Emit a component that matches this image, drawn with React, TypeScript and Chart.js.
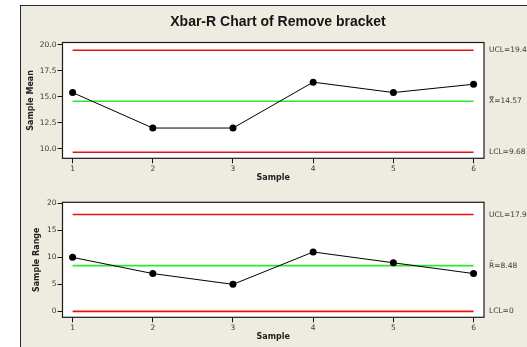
import { useEffect, useRef } from "react";
import { Chart, registerables } from "chart.js";

Chart.register(...registerables);

// Subgroup numbers and the statistics plotted for each subgroup
const SAMPLES = [1, 2, 3, 4, 5, 6];
const SAMPLE_MEANS = [15.4, 12.0, 12.0, 16.4, 15.4, 16.2];
const SAMPLE_RANGES = [10, 7, 5, 11, 9, 7];

// Control limits (Xbar chart)
const XBAR_UCL = 19.46;
const XBAR_CENTER = 14.57;
const XBAR_LCL = 9.68;

// Control limits (R chart)
const R_UCL = 17.93;
const R_CENTER = 8.48;
const R_LCL = 0;

// Axis tick values
const MEAN_TICKS = [10, 12.5, 15, 17.5, 20];
const RANGE_TICKS = [0, 5, 10, 15, 20];

const TITLE = "Xbar-R Chart of Remove bracket";

const SMALL_FONT = "DejaVu Sans";
const RED = "#ea1010";
const GREEN = "#2ee62e";
const INK = "#3a3a3a";

type LimitLabel = { text: string; value: number };

function controlLine(value: number, color: string) {
  return {
    type: "line" as const,
    data: [
      { x: SAMPLES[0], y: value },
      { x: SAMPLES[SAMPLES.length - 1], y: value },
    ],
    borderColor: color,
    borderWidth: 1.6,
    pointRadius: 0,
    fill: false,
    order: 2,
  };
}

function makeChart(
  canvas: HTMLCanvasElement,
  opts: {
    values: number[];
    ucl: number;
    center: number;
    lcl: number;
    yMin: number;
    yMax: number;
    ticks: number[];
    decimals: number;
    yTitle: string;
    yTitlePad: number;
    padTop: number;
    xAxisHeight: number;
    xTitlePad: number;
    labels: LimitLabel[];
    heading?: string;
  }
) {
  const plotFrame = {
    id: "plotFrame",
    beforeDatasetsDraw(chart: any) {
      const { ctx, chartArea: a } = chart;
      ctx.save();
      ctx.fillStyle = "#ffffff";
      ctx.fillRect(a.left, a.top, a.right - a.left, a.bottom - a.top);
      ctx.restore();
    },
    afterDatasetsDraw(chart: any) {
      const { ctx, chartArea: a } = chart;
      ctx.save();
      ctx.strokeStyle = "#1a1a1a";
      ctx.lineWidth = 1.2;
      ctx.strokeRect(a.left, a.top, a.right - a.left, a.bottom - a.top);
      ctx.restore();
    },
  };

  const limitLabels = {
    id: "limitLabels",
    afterDraw(chart: any) {
      const { ctx, chartArea: a } = chart;
      const y = chart.scales.y;
      ctx.save();
      ctx.font = `7.5px "${SMALL_FONT}"`;
      ctx.fillStyle = INK;
      ctx.textBaseline = "middle";
      ctx.textAlign = "left";
      opts.labels.forEach((l) => {
        ctx.fillText(l.text, a.right + 5, y.getPixelForValue(l.value));
      });
      ctx.restore();
    },
  };

  const heading = {
    id: "heading",
    afterDraw(chart: any) {
      if (!opts.heading) return;
      const { ctx } = chart;
      ctx.save();
      ctx.font = 'bold 14px "Liberation Sans"';
      ctx.fillStyle = "#151515";
      ctx.textAlign = "center";
      ctx.textBaseline = "middle";
      ctx.fillText(opts.heading, 278, 22);
      ctx.restore();
    },
  };

  const tickFont = { family: SMALL_FONT, size: 7.5 };
  const titleFont = { family: SMALL_FONT, size: 8, weight: "bold" as const };

  return new Chart(canvas, {
    type: "line",
    data: {
      datasets: [
        {
          type: "line",
          data: SAMPLES.map((s, i) => ({ x: s, y: opts.values[i] })),
          borderColor: "#000000",
          borderWidth: 1,
          pointRadius: 3.5,
          pointBackgroundColor: "#000000",
          pointBorderColor: "#000000",
          pointBorderWidth: 0,
          fill: false,
          order: 0,
        },
        controlLine(opts.ucl, RED),
        controlLine(opts.center, GREEN),
        controlLine(opts.lcl, RED),
      ],
    },
    options: {
      responsive: false,
      animation: false,
      events: [],
      layout: { padding: { top: opts.padTop, right: 43, left: 0, bottom: 0 } },
      plugins: {
        legend: { display: false },
        tooltip: { enabled: false },
        title: { display: false },
      },
      scales: {
        x: {
          type: "linear",
          min: 0.874,
          max: 6.13,
          afterBuildTicks: (s: any) => {
            s.ticks = SAMPLES.map((v) => ({ value: v }));
          },
          afterFit: (s: any) => {
            s.height = opts.xAxisHeight;
          },
          ticks: {
            font: tickFont,
            color: INK,
            padding: 1,
            autoSkip: false,
            maxRotation: 0,
            callback: (v: any) => String(v),
          },
          grid: {
            drawOnChartArea: false,
            drawTicks: true,
            tickLength: 5,
            tickColor: "#111",
            tickWidth: 1,
          },
          border: { display: false },
          title: {
            display: true,
            text: "Sample",
            font: titleFont,
            color: "#222",
            padding: { top: 0, bottom: opts.xTitlePad },
          },
        },
        y: {
          type: "linear",
          min: opts.yMin,
          max: opts.yMax,
          afterBuildTicks: (s: any) => {
            s.ticks = opts.ticks.map((v) => ({ value: v }));
          },
          afterFit: (s: any) => {
            s.width = 62.5;
          },
          ticks: {
            font: tickFont,
            color: INK,
            padding: 1,
            autoSkip: false,
            callback: (v: any) => Number(v).toFixed(opts.decimals),
          },
          grid: {
            drawOnChartArea: false,
            drawTicks: true,
            tickLength: 5,
            tickColor: "#111",
            tickWidth: 1,
          },
          border: { display: false },
          title: {
            display: true,
            text: opts.yTitle,
            font: titleFont,
            color: "#222",
            padding: { top: opts.yTitlePad, bottom: 0 },
          },
        },
      },
    },
    plugins: [plotFrame, limitLabels, heading],
  });
}

export default function App() {
  const meanRef = useRef<HTMLCanvasElement>(null);
  const rangeRef = useRef<HTMLCanvasElement>(null);

  useEffect(() => {
    const meanChart = makeChart(meanRef.current!, {
      values: SAMPLE_MEANS,
      ucl: XBAR_UCL,
      center: XBAR_CENTER,
      lcl: XBAR_LCL,
      yMin: 9.1,
      yMax: 20.2,
      ticks: MEAN_TICKS,
      decimals: 1,
      yTitle: "Sample Mean",
      yTitlePad: 26.5,
      padTop: 42.5,
      xAxisHeight: 31.7,
      xTitlePad: 6.9,
      heading: TITLE,
      labels: [
        { text: `UCL=${XBAR_UCL}`, value: XBAR_UCL },
        { text: `X\u033F=${XBAR_CENTER}`, value: XBAR_CENTER },
        { text: `LCL=${XBAR_LCL}`, value: XBAR_LCL },
      ],
    });
    const rangeChart = makeChart(rangeRef.current!, {
      values: SAMPLE_RANGES,
      ucl: R_UCL,
      center: R_CENTER,
      lcl: R_LCL,
      yMin: -1.1,
      yMax: 20.2,
      ticks: RANGE_TICKS,
      decimals: 0,
      yTitle: "Sample Range",
      yTitlePad: 32.5,
      padTop: 12.3,
      xAxisHeight: 29.7,
      xTitlePad: 5.5,
      labels: [
        { text: `UCL=${R_UCL}`, value: R_UCL },
        { text: `R\u0304=${R_CENTER}`, value: R_CENTER },
        { text: `LCL=${R_LCL}`, value: R_LCL },
      ],
    });
    return () => {
      meanChart.destroy();
      rangeChart.destroy();
    };
  }, []);

  return (
    <div
      style={{
        position: "absolute",
        left: 0,
        top: 0,
        width: 527,
        height: 347,
        overflow: "hidden",
        background: "#ffffff",
      }}
    >
      <div
        style={{
          position: "absolute",
          left: 20,
          top: 5,
          width: 540,
          height: 380,
          background: "#eeebe1",
          border: "1px solid #2a2a2a",
        }}
      />
      <canvas
        ref={meanRef}
        width={527}
        height={190}
        style={{ position: "absolute", left: 0, top: 0 }}
      />
      <canvas
        ref={rangeRef}
        width={527}
        height={157}
        style={{ position: "absolute", left: 0, top: 190 }}
      />
    </div>
  );
}
